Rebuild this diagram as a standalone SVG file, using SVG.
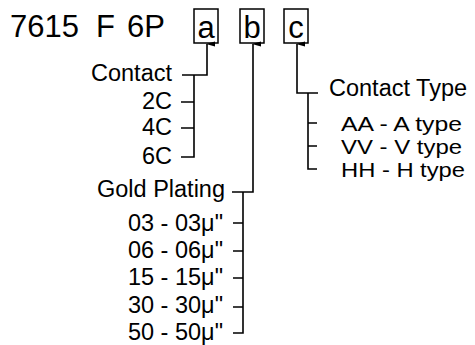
<svg xmlns="http://www.w3.org/2000/svg" width="475" height="345" viewBox="0 0 475 345">
<style>
text{font-family:"Liberation Sans",Arial,sans-serif;fill:#000}
.t{font-size:31px}
.l{font-size:23.5px}
.s{font-size:20.5px}
.r{text-anchor:end}
.box{fill:#fff;stroke:#000;stroke-width:1.5}
.ln{fill:none;stroke:#000;stroke-width:1.6}
</style>
<defs>
<marker id="ah" viewBox="0 0 6 10" refX="3" refY="1" markerWidth="6" markerHeight="10" markerUnits="userSpaceOnUse" orient="auto-start-reverse">
<path d="M3,0 L5.5,9 L0.5,9 Z" fill="#000"/>
</marker>
</defs>
<rect width="475" height="345" fill="#fff"/>
<g id="code">
<text class="t" x="10" y="37">7615</text>
<text class="t" x="96" y="37">F</text>
<text class="t" x="127" y="37">6P</text>
</g>
<g id="box-a"><rect class="box" x="194" y="9" width="24" height="34"/><text class="t" x="206" y="38" text-anchor="middle">a</text></g>
<g id="box-b"><rect class="box" x="240" y="9" width="24" height="34"/><text class="t" x="252" y="38" text-anchor="middle">b</text></g>
<g id="box-c"><rect class="box" x="284" y="9" width="24" height="34"/><text class="t" x="296" y="38" text-anchor="middle">c</text></g>
<g id="contact">
<text class="l r" x="172" y="81">Contact</text>
<text class="l r" x="172" y="109">2C</text>
<text class="l r" x="172" y="135">4C</text>
<text class="l r" x="172" y="164">6C</text>
</g>
<g id="gold">
<text class="l r" x="225" y="197">Gold Plating</text>
<text class="l r" x="223" y="231">03 - 03μ"</text>
<text class="l r" x="223" y="258">06 - 06μ"</text>
<text class="l r" x="223" y="285">15 - 15μ"</text>
<text class="l r" x="223" y="313">30 - 30μ"</text>
<text class="l r" x="223" y="340">50 - 50μ"</text>
</g>
<g id="type">
<text class="l" x="329" y="96">Contact Type</text>
<text class="s" x="341" y="131" textLength="121" lengthAdjust="spacingAndGlyphs">AA - A type</text>
<text class="s" x="341" y="154" textLength="121" lengthAdjust="spacingAndGlyphs">VV - V type</text>
<text class="s" x="341" y="177" textLength="124" lengthAdjust="spacingAndGlyphs">HH - H type</text>
</g>
<g id="connectors">
<path class="ln" d="M182,75 H207 V44" marker-end="url(#ah)"/>
<path class="ln" d="M194,75 V157 H181 M181,102 H194 M181,128 H194"/>
<path class="ln" d="M232,192 H253 V44" marker-end="url(#ah)"/>
<path class="ln" d="M243,192 V333 H233 M233,223 H243 M233,251 H243 M233,278 H243 M233,307 H243"/>
<path class="ln" d="M318,93 H297 V44" marker-end="url(#ah)"/>
<path class="ln" d="M308,93 V169 H317 M308,123 H317 M308,146 H317"/>
</g>
</svg>
